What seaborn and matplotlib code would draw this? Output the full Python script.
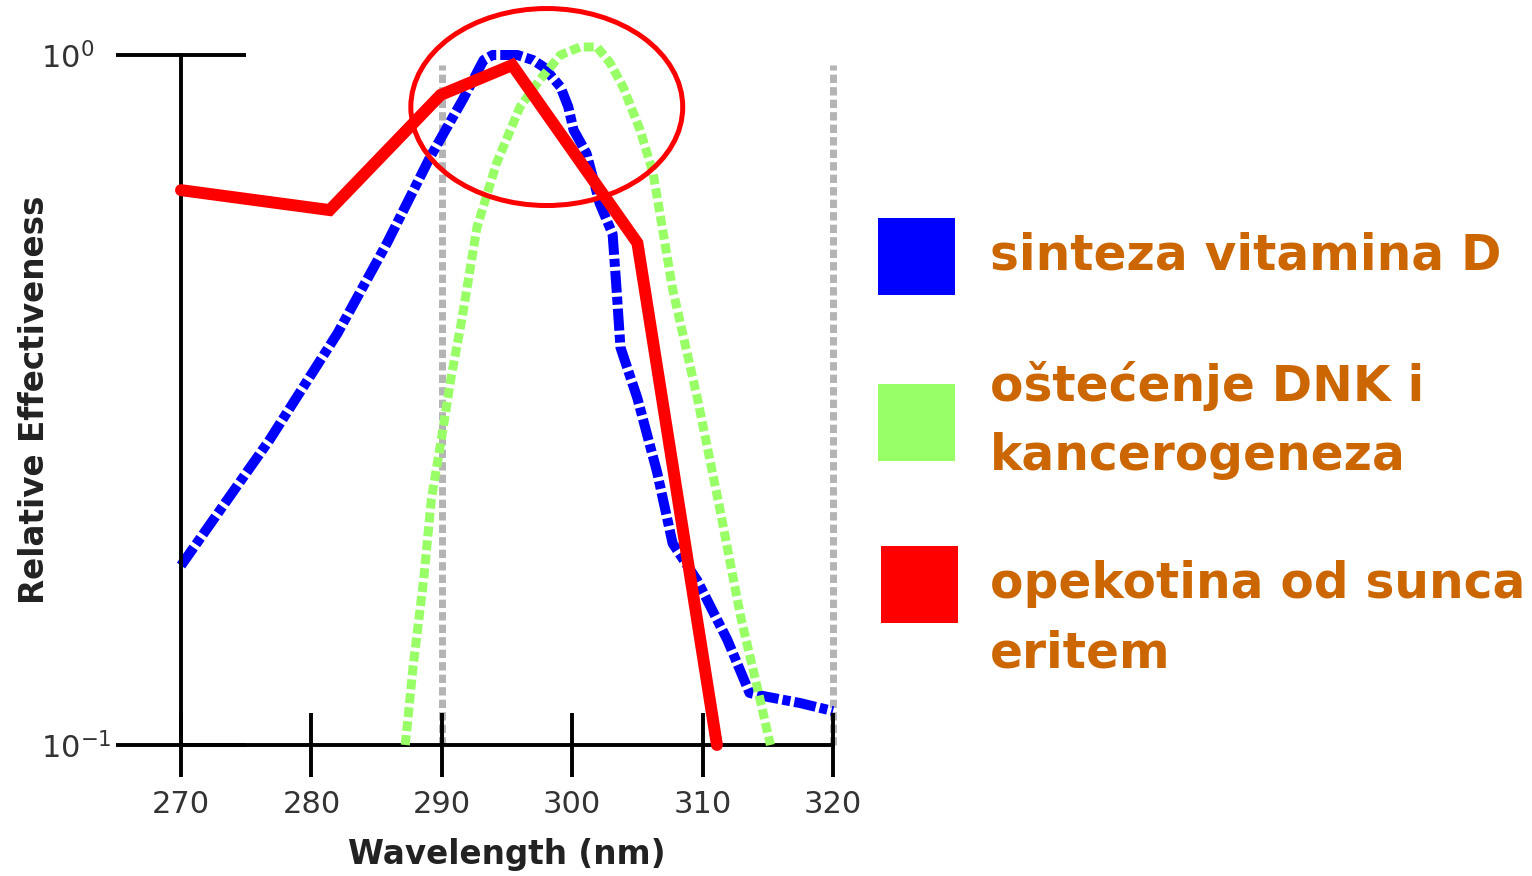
# Spektri djelovanja UV zracenja (log skala)

import matplotlib
matplotlib.use("Agg")
import matplotlib.pyplot as plt
from matplotlib.patches import Ellipse, Rectangle
from matplotlib.ticker import FixedLocator, NullLocator
import seaborn as sns

# --- podaci (ocitano sa slike) ---
blue_x = [270.0, 276.8, 282.0, 285.8, 289.1, 291.6, 293.2, 293.9, 295.8, 297.0,
          297.8, 299.1, 299.7, 300.1, 301.1, 302.1, 303.1, 303.4, 303.7, 305.0,
          306.5, 307.7, 309.6, 311.9, 313.6, 314.4, 317.5, 320.0]
blue_y = [0.182, 0.277, 0.395, 0.534, 0.711, 0.861, 0.983, 1.0, 1.0, 0.983,
          0.961, 0.899, 0.841, 0.779, 0.72, 0.61, 0.55, 0.458, 0.377, 0.318,
          0.249, 0.196, 0.173, 0.142, 0.119, 0.118, 0.115, 0.112]

green_x = [287.2, 287.8, 288.6, 289.2, 290.0, 290.7, 291.5, 292.7, 294.2, 296.0,
           297.5, 299.1, 300.6, 301.9, 302.9, 303.9, 305.2, 306.2, 307.7, 309.6,
           311.3, 312.9, 314.2, 315.2]
green_y = [0.100, 0.130, 0.173, 0.227, 0.280, 0.340, 0.410, 0.563, 0.697, 0.841,
           0.920, 1.0, 1.027, 1.027, 0.974, 0.899, 0.779, 0.675, 0.458, 0.318,
           0.221, 0.154, 0.121, 0.100]

red_x = [270.0, 281.4, 289.9, 295.4, 305.0, 311.1]
red_y = [0.637, 0.596, 0.875, 0.967, 0.534, 0.100]

gray_x = [290, 320]
gray_range = [0.1, 0.967]

x_ticks = [270, 280, 290, 300, 310, 320]
y_ticks = [0.1, 1]

labels = ["sinteza vitamina D", "oštećenje DNK i\nkancerogeneza", "opekotina od sunca\neritem"]
colors = ["#0000ff", "#99ff66", "#ff0000"]

# --- crtanje ---
sns.set_theme(style="white")
plt.rcParams['font.family'] = ['DejaVu Sans']
plt.rcParams.update({
    "axes.unicode_minus": False,
    "xtick.bottom": True, "ytick.left": True,
    "ytick.direction": "inout", "ytick.major.size": 94,
    "ytick.major.width": 2.8,
    "ytick.color": "black",
    "xtick.labelcolor": "#333333", "ytick.labelcolor": "#333333",
    "xtick.labelsize": 22, "ytick.labelsize": 22,
    "ytick.major.pad": 54,
})

W, H = 1532, 876
fig = plt.figure(figsize=(W / 100, H / 100), dpi=100)
fig.patch.set_facecolor("white")
ax = fig.add_axes([181 / W, 1 - 745 / H, 652 / W, 690 / H])

for gx in gray_x:
    ax.plot([gx, gx], gray_range, color="#b4b4b4", lw=5, linestyle=(0, (1.2, 0.6)),
            clip_on=False, zorder=1)

sns.lineplot(x=blue_x, y=blue_y, ax=ax, color=colors[0], lw=7.2,
             linestyle=(0, (2.2, 0.4, 0.8, 0.4)), clip_on=False, zorder=2)
sns.lineplot(x=green_x, y=green_y, ax=ax, color=colors[1], lw=6.5,
             linestyle=(0, (1.1, 0.45)), clip_on=False, zorder=3)
sns.lineplot(x=red_x, y=red_y, ax=ax, color=colors[2], lw=8.6,
             solid_joinstyle="miter", clip_on=False, zorder=4)

ax.set_yscale("log")
ax.set_xlim(270, 320)
ax.set_ylim(0.1, 1)
ax.set_xticks(x_ticks)
ax.yaxis.set_major_locator(FixedLocator(y_ticks))
ax.yaxis.set_minor_locator(NullLocator())
for t in ax.get_yticklabels():
    t.set_horizontalalignment("left")

# x crtice preko osi (gore i dolje), nacrtane kao vlines u koordinatama osi
ax.tick_params(axis="x", which="major", length=0, pad=32.5)
ax.vlines(x_ticks, -0.047, 0.047, transform=ax.get_xaxis_transform(),
          colors="black", lw=2.8, clip_on=False, zorder=6)

for s in ["top", "right"]:
    ax.spines[s].set_visible(False)
for s in ["left", "bottom"]:
    ax.spines[s].set_color("black")
    ax.spines[s].set_linewidth(2.8)

ax.set_xlabel("Wavelength (nm)", fontsize=23.5, fontweight="bold", color="#222222")
ax.set_ylabel("Relative Effectiveness", fontsize=23.5, fontweight="bold", color="#222222")
ax.xaxis.set_label_coords(0.5, -0.135)
ax.yaxis.set_label_coords(-0.2, 0.5)

# crvena elipsa oko vrhova
ax.add_patch(Ellipse((0.561, 0.9246), 0.417, 0.2855, transform=ax.transAxes,
                     fill=False, edgecolor="#ff0000", lw=3.6, clip_on=False, zorder=5))

# legenda (rucno); bazna linija zadnjeg reda teksta
sq_pos = [(878, 218), (878, 384), (881, 546)]
baselines = [270, 470, 667]
sq = 77
for lab, col, (sx, sy), bl in zip(labels, colors, sq_pos, baselines):
    fig.add_artist(Rectangle((sx / W, 1 - (sy + sq) / H), sq / W, sq / H,
                             transform=fig.transFigure, facecolor=col, edgecolor="none"))
    fig.text(990 / W, 1 - bl / H, lab, fontsize=35, fontweight="bold", color="#cc6600",
             va="baseline", ha="left", linespacing=1.56)

fig.savefig("out.png", dpi=100)
